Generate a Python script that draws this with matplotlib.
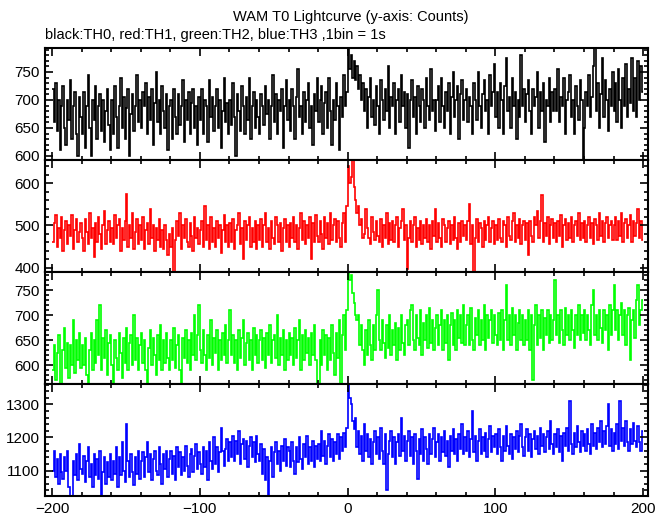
import numpy as np
import matplotlib
matplotlib.use("Agg")
import matplotlib.pyplot as plt
from matplotlib.ticker import MultipleLocator

plt.rcParams['font.family'] = ['Liberation Sans', 'DejaVu Sans']

# time bins (1 bin = 1 s), edges from -200 to 200
edges = np.arange(-200, 201)

# TH0 (black)
th0 = [
    720, 660, 730, 645, 700, 610, 690, 725, 650, 620, 700, 665, 735, 630, 690, 715, 640, 600, 705, 670,
    640, 715, 615, 690, 745, 650, 600, 700, 665, 725, 630, 690, 710, 645, 700, 625, 680, 720, 655, 610,
    700, 640, 725, 670, 615, 690, 740, 650, 705, 630, 685, 720, 600, 675, 710, 645, 690, 745, 660, 700,
    650, 715, 690, 730, 640, 705, 665, 720, 620, 695, 750, 660, 700, 640, 725, 680, 650, 710, 610, 690,
    700, 630, 720, 670, 640, 710, 655, 690, 735, 625, 700, 665, 715, 640, 695, 720, 650, 690, 620, 705,
    665, 720, 640, 700, 690, 625, 735, 670, 705, 645, 690, 720, 650, 700, 615, 680, 740, 660, 695, 640,
    700, 655, 730, 670, 600, 710, 680, 645, 725, 690, 640, 705, 665, 740, 630, 690, 715, 650, 700, 670,
    640, 710, 690, 655, 725, 675, 700, 630, 690, 745, 660, 710, 640, 700, 680, 720, 615, 690, 735, 665,
    700, 645, 720, 690, 630, 705, 755, 670, 690, 640, 715, 660, 700, 730, 650, 690, 620, 710, 680, 740,
    660, 700, 725, 640, 695, 715, 650, 740, 680, 620, 700, 665, 730, 690, 610, 705, 670, 745, 690, 715,
    793, 755, 780, 740, 770, 735, 760, 720, 745, 700, 730, 680, 720, 650, 705, 740, 670, 700, 655, 725,
    690, 640, 735, 700, 665, 720, 680, 760, 650, 705, 690, 730, 640, 700, 720, 660, 745, 690, 715, 650,
    710, 615, 700, 735, 670, 705, 640, 725, 690, 660, 720, 700, 650, 740, 690, 665, 755, 680, 700, 645,
    700, 725, 660, 740, 690, 650, 715, 680, 730, 640, 705, 750, 670, 700, 725, 630, 710, 735, 665, 700,
    720, 660, 705, 690, 640, 730, 700, 665, 750, 690, 650, 710, 735, 680, 700, 640, 745, 690, 715, 765,
    670, 715, 650, 730, 700, 640, 725, 775, 680, 705, 650, 740, 690, 715, 630, 700, 670, 780, 690, 720,
    660, 710, 735, 680, 640, 720, 690, 705, 750, 650, 715, 680, 730, 625, 700, 690, 740, 660, 715, 680,
    720, 680, 755, 660, 705, 690, 740, 640, 700, 715, 745, 670, 700, 640, 725, 690, 665, 735, 700, 593,
    650, 715, 690, 745, 670, 705, 760, 793, 680, 730, 650, 710, 775, 670, 735, 700, 645, 720, 690, 750,
    680, 730, 660, 755, 700, 650, 740, 690, 765, 670, 720, 695, 775, 680, 740, 670, 770, 700, 760, 715,
]

# TH1 (red)
th1 = [
    460, 505, 525, 450, 495, 470, 520, 440, 490, 510, 455, 500, 475, 525, 445, 490, 515, 460, 485, 505,
    470, 440, 515, 485, 455, 530, 470, 495, 425, 505, 460, 520, 480, 445, 500, 535, 455, 490, 510, 460,
    495, 455, 525, 470, 500, 515, 440, 495, 465, 510, 575, 450, 500, 470, 530, 445, 485, 515, 455, 500,
    465, 520, 445, 490, 505, 455, 540, 470, 500, 440, 495, 465, 515, 450, 490, 445, 500, 465, 430, 480,
    450, 495, 390, 465, 510, 475, 530, 445, 500, 470, 515, 460, 450, 505, 475, 440, 520, 470, 495, 455,
    490, 510, 450, 545, 465, 500, 445, 520, 460, 495, 450, 510, 470, 500, 435, 490, 525, 460, 500, 450,
    505, 460, 515, 445, 490, 500, 530, 455, 495, 420, 510, 465, 500, 520, 450, 495, 460, 510, 445, 500,
    465, 515, 450, 500, 530, 460, 495, 445, 510, 470, 455, 520, 500, 460, 505, 440, 495, 515, 460, 500,
    450, 505, 470, 520, 460, 500, 445, 495, 530, 465, 510, 455, 500, 470, 520, 420, 505, 460, 525, 475,
    460, 510, 480, 445, 520, 470, 505, 455, 530, 465, 500, 515, 460, 510, 470, 450, 505, 530, 460, 545,
    640, 600, 615, 655, 590, 560, 530, 545, 500, 515, 470, 480, 540, 495, 470, 455, 520, 485, 465, 510,
    475, 460, 515, 450, 500, 470, 530, 455, 505, 465, 510, 460, 500, 520, 450, 495, 510, 540, 465, 500,
    398, 470, 510, 460, 500, 520, 450, 495, 465, 510, 455, 500, 470, 515, 460, 500, 445, 510, 475, 540,
    460, 505, 470, 450, 515, 500, 460, 495, 510, 455, 500, 465, 520, 470, 445, 505, 460, 510, 475, 500,
    465, 510, 550, 455, 500, 390, 470, 515, 460, 505, 495, 450, 510, 465, 500, 520, 460, 495, 510, 455,
    500, 465, 515, 470, 460, 510, 500, 450, 520, 475, 465, 510, 530, 460, 500, 470, 515, 455, 500, 510,
    465, 505, 430, 510, 475, 460, 520, 500, 535, 470, 510, 572, 460, 505, 475, 520, 455, 500, 515, 470,
    505, 460, 510, 475, 525, 450, 500, 515, 465, 505, 470, 520, 460, 500, 510, 475, 530, 465, 505, 470,
    510, 460, 500, 520, 470, 505, 455, 515, 500, 465, 530, 475, 510, 460, 505, 520, 470, 500, 510, 465,
    500, 520, 465, 510, 475, 530, 460, 505, 515, 470, 500, 525, 460, 510, 475, 505, 540, 470, 510, 465,
]

# TH2 (green)
th2 = [
    590, 640, 570, 625, 660, 563, 563, 630, 675, 595, 645, 575, 640, 600, 690, 585, 650, 610, 665, 595,
    640, 600, 655, 580, 563, 630, 665, 590, 650, 605, 690, 620, 720, 590, 655, 615, 670, 580, 645, 660,
    600, 563, 650, 615, 590, 665, 625, 575, 655, 605, 675, 590, 645, 660, 600, 700, 610, 655, 590, 640,
    665, 605, 650, 590, 563, 635, 670, 600, 655, 620, 580, 660, 610, 680, 590, 650, 605, 665, 615, 590,
    650, 610, 675, 595, 640, 660, 590, 563, 655, 615, 670, 605, 650, 590, 665, 620, 700, 610, 660, 720,
    630, 605, 670, 620, 590, 660, 615, 690, 600, 655, 625, 670, 590, 650, 610, 665, 620, 680, 605, 650,
    710, 620, 660, 605, 650, 590, 670, 615, 655, 690, 600, 645, 665, 610, 650, 590, 675, 620, 660, 605,
    650, 670, 610, 655, 595, 665, 620, 680, 605, 650, 660, 615, 700, 600, 655, 620, 670, 590, 650, 610,
    665, 620, 655, 600, 675, 615, 650, 690, 590, 660, 610, 670, 625, 655, 600, 665, 620, 680, 610, 563,
    563, 650, 600, 670, 620, 660, 590, 655, 610, 680, 625, 580, 665, 615, 690, 563, 660, 700, 630, 710,
    787, 770, 780, 745, 725, 700, 690, 700, 640, 680, 630, 600, 670, 620, 690, 640, 610, 680, 630, 700,
    750, 650, 630, 690, 645, 615, 680, 635, 700, 620, 670, 640, 685, 610, 675, 630, 700, 645, 620, 680,
    690, 640, 710, 720, 650, 630, 700, 655, 640, 710, 620, 685, 650, 700, 635, 715, 645, 690, 630, 675,
    700, 640, 680, 710, 630, 690, 645, 700, 610, 680, 705, 640, 690, 630, 710, 655, 700, 645, 720, 640,
    680, 700, 640, 715, 650, 630, 695, 660, 710, 640, 690, 650, 720, 630, 700, 655, 690, 710, 645, 700,
    660, 640, 705, 650, 710, 630, 690, 760, 650, 700, 640, 715, 660, 700, 630, 685, 710, 650, 700, 640,
    690, 650, 710, 630, 700, 570, 680, 720, 640, 700, 655, 710, 630, 695, 660, 710, 645, 700, 650, 690,
    770, 660, 700, 645, 710, 670, 640, 715, 660, 700, 650, 710, 670, 635, 700, 660, 720, 650, 700, 665,
    710, 650, 700, 670, 640, 720, 750, 660, 700, 650, 710, 675, 645, 710, 670, 700, 630, 720, 660, 710,
    760, 670, 710, 650, 700, 725, 660, 710, 640, 700, 715, 610, 690, 710, 655, 730, 760, 680, 710, 730,
]

# TH3 (blue)
th3 = [
    1100, 1160, 1080, 1135, 1060, 1150, 1095, 1075, 1140, 1100, 1160, 1050, 1023, 1023, 1130, 1085, 1150, 1070, 1180, 1105,
    1090, 1145, 1065, 1130, 1170, 1080, 1120, 1050, 1150, 1085, 1135, 1075, 1160, 1023, 1095, 1140, 1060, 1125, 1080, 1150,
    1070, 1130, 1090, 1170, 1050, 1140, 1085, 1185, 1100, 1065, 1240, 1130, 1080, 1150, 1095, 1055, 1140, 1090, 1160, 1075,
    1130, 1155, 1080, 1140, 1185, 1095, 1150, 1070, 1135, 1160, 1100, 1085, 1170, 1120, 1060, 1150, 1105, 1160, 1080, 1135,
    1160, 1090, 1145, 1070, 1170, 1110, 1155, 1085, 1140, 1100, 1175, 1115, 1080, 1150, 1165, 1095, 1145, 1180, 1105, 1155,
    1120, 1090, 1170, 1110, 1160, 1070, 1185, 1130, 1105, 1200, 1120, 1170, 1095, 1155, 1230, 1160, 1115, 1165, 1195, 1130,
    1185, 1140, 1205, 1130, 1190, 1150, 1220, 1120, 1180, 1195, 1135, 1190, 1110, 1175, 1200, 1140, 1185, 1125, 1205, 1150,
    1130, 1180, 1090, 1165, 1070, 1140, 1023, 1130, 1170, 1080, 1155, 1185, 1120, 1160, 1100, 1175, 1130, 1195, 1115, 1170,
    1160, 1110, 1185, 1130, 1090, 1170, 1125, 1200, 1135, 1105, 1180, 1140, 1205, 1120, 1170, 1130, 1190, 1110, 1175, 1135,
    1180, 1130, 1220, 1145, 1190, 1120, 1175, 1210, 1140, 1195, 1130, 1185, 1150, 1210, 1135, 1200, 1160, 1215, 1170, 1230,
    1362, 1320, 1300, 1250, 1225, 1260, 1170, 1220, 1150, 1205, 1130, 1240, 1160, 1210, 1140, 1195, 1120, 1185, 1220, 1150,
    1200, 1135, 1230, 1160, 1120, 1210, 1040, 1150, 1190, 1220, 1140, 1200, 1120, 1185, 1210, 1145, 1260, 1160, 1205, 1130,
    1190, 1220, 1145, 1200, 1120, 1210, 1160, 1075, 1195, 1150, 1225, 1130, 1200, 1165, 1120, 1210, 1150, 1195, 1230, 1140,
    1185, 1210, 1130, 1200, 1155, 1220, 1145, 1190, 1110, 1205, 1160, 1225, 1150, 1195, 1130, 1210, 1165, 1240, 1150, 1200,
    1160, 1220, 1140, 1195, 1280, 1155, 1205, 1130, 1190, 1225, 1150, 1200, 1160, 1215, 1140, 1195, 1235, 1155, 1205, 1170,
    1210, 1150, 1225, 1170, 1130, 1205, 1160, 1235, 1175, 1150, 1210, 1135, 1200, 1165, 1220, 1155, 1205, 1240, 1170, 1145,
    1200, 1225, 1160, 1210, 1140, 1195, 1220, 1165, 1205, 1150, 1230, 1175, 1210, 1155, 1200, 1220, 1165, 1250, 1180, 1150,
    1210, 1170, 1225, 1155, 1205, 1130, 1215, 1175, 1230, 1160, 1310, 1180, 1150, 1215, 1170, 1235, 1185, 1155, 1220, 1175,
    1210, 1160, 1225, 1180, 1150, 1240, 1175, 1215, 1165, 1230, 1185, 1250, 1170, 1220, 1180, 1235, 1300, 1175, 1225, 1160,
    1215, 1180, 1240, 1165, 1310, 1190, 1230, 1175, 1250, 1185, 1160, 1225, 1180, 1245, 1190, 1170, 1235, 1185, 1160, 1220,
]

series = [th0, th1, th2, th3]
colors = ["black", "#ff0000", "#00ff00", "#0000ff"]
# (major, minor) y tick spacing per panel
yticks = [(50, 10), (100, 20), (50, 10), (100, 20)]

fig = plt.figure(figsize=(6.69, 5.15), dpi=100)
left, right, bottom, top = 0.068, 0.969, 0.037, 0.907
h = (top - bottom) / 4

for i, (vals, col, (maj, mnr)) in enumerate(zip(series, colors, yticks)):
    ax = fig.add_axes([left, top - (i + 1) * h, right - left, h])
    vals = np.array(vals)
    ax.stairs(vals, edges, color=col, linewidth=1.2, baseline=None)
    ax.set_xlim(-204.5, 203.5)
    ax.set_ylim(vals.min(), vals.max())
    ax.xaxis.set_major_locator(MultipleLocator(100))
    ax.xaxis.set_minor_locator(MultipleLocator(20))
    ax.yaxis.set_major_locator(MultipleLocator(maj))
    ax.yaxis.set_minor_locator(MultipleLocator(mnr))
    ax.tick_params(which="both", direction="in", top=True, right=True, width=1.2,
                   labelsize=11, pad=4)
    ax.tick_params(which="major", length=6)
    ax.tick_params(which="minor", length=3)
    for s in ax.spines.values():
        s.set_linewidth(1.5)
    if i < 3:
        ax.tick_params(labelbottom=False)

fig.text(0.525, 0.967, "WAM T0 Lightcurve (y-axis: Counts)", ha="center", va="center", fontsize=10.5)
fig.text(0.068, 0.932, "black:TH0, red:TH1, green:TH2, blue:TH3 ,1bin = 1s", ha="left", va="center", fontsize=10.5)

plt.savefig("out.png", dpi=100)
